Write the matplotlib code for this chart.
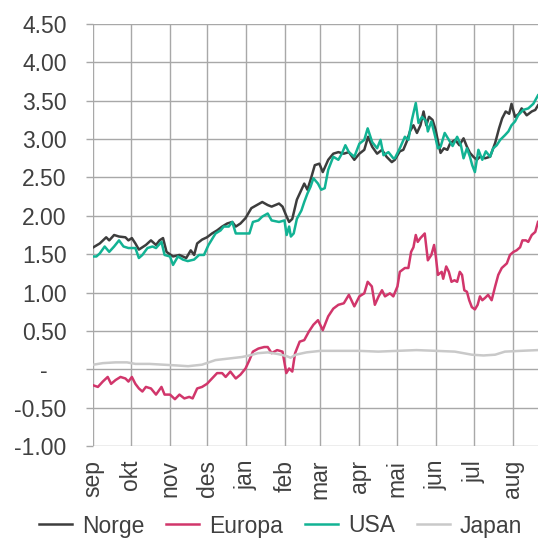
import numpy as np
import pandas as pd
import matplotlib
matplotlib.use("Agg")
import matplotlib.pyplot as plt

# tid i måneder etter 1. sep (0 = sep, 1 = okt, ...), verdier i prosent
norge_t = [0.01, 0.18, 0.35, 0.43, 0.56, 0.69, 0.86, 0.94, 1.03, 1.12, 1.21, 1.39, 1.52, 1.65,
           1.74, 1.83, 1.92, 2.09, 2.26, 2.44, 2.56, 2.65, 2.73, 2.86, 2.99, 3.12, 3.25, 3.38,
           3.51, 3.64, 3.73, 3.85, 3.98, 4.13, 4.27, 4.41, 4.55, 4.65, 4.84, 4.93, 5.03, 5.11,
           5.20, 5.33, 5.46, 5.54, 5.63, 5.72, 5.84, 5.97, 6.06, 6.20, 6.33, 6.46, 6.60, 6.73,
           6.87, 7.00, 7.13, 7.23, 7.34, 7.47, 7.60, 7.72, 7.86, 7.94, 8.07, 8.16, 8.25, 8.33,
           8.42, 8.51, 8.60, 8.68, 8.75, 8.82, 8.91, 8.99, 9.06, 9.12, 9.21, 9.30, 9.38, 9.51,
           9.62, 9.73, 9.82, 9.90, 9.99, 10.08, 10.16, 10.29, 10.42, 10.55, 10.65, 10.73, 10.82,
           10.91, 10.97, 11.06, 11.16, 11.23, 11.36, 11.49, 11.58, 11.65]
norge = [1.59, 1.64, 1.72, 1.68, 1.75, 1.73, 1.72, 1.68, 1.71, 1.64, 1.56, 1.62, 1.68, 1.62,
         1.68, 1.71, 1.53, 1.47, 1.49, 1.45, 1.55, 1.49, 1.64, 1.69, 1.72, 1.77, 1.81, 1.86,
         1.90, 1.92, 1.86, 1.90, 1.97, 2.10, 2.14, 2.18, 2.14, 2.12, 2.16, 2.12, 2.00, 1.92,
         1.96, 2.21, 2.34, 2.42, 2.34, 2.47, 2.66, 2.68, 2.57, 2.73, 2.81, 2.83, 2.81, 2.83,
         2.73, 2.81, 2.86, 3.03, 2.90, 2.81, 2.86, 2.77, 2.70, 2.73, 2.84, 2.86, 2.97, 3.10,
         3.18, 3.08, 3.18, 3.36, 3.18, 3.29, 3.25, 3.12, 2.95, 2.82, 2.88, 2.86, 2.95, 2.99,
         2.92, 3.01, 2.90, 2.82, 2.77, 2.73, 2.77, 2.75, 2.77, 2.95, 3.14, 3.27, 3.36,
         3.33, 3.46, 3.29, 3.33, 3.40, 3.31, 3.36, 3.38, 3.44]

usa_t = [0.01, 0.09, 0.18, 0.31, 0.43, 0.56, 0.69, 0.81, 0.94, 1.12, 1.21, 1.30, 1.43, 1.56,
         1.65, 1.79, 1.87, 2.01, 2.09, 2.22, 2.35, 2.48, 2.65, 2.78, 2.91, 3.03, 3.21, 3.34,
         3.42, 3.55, 3.64, 3.73, 3.90, 4.08, 4.17, 4.31, 4.41, 4.55, 4.65, 4.84, 4.98, 5.04,
         5.11, 5.16, 5.24, 5.33, 5.46, 5.54, 5.63, 5.72, 5.80, 5.93, 6.02, 6.11, 6.20, 6.33,
         6.46, 6.55, 6.64, 6.73, 6.87, 7.00, 7.13, 7.22, 7.34, 7.47, 7.56, 7.64, 7.77, 7.90,
         7.94, 8.07, 8.20, 8.29, 8.38, 8.48, 8.55, 8.64, 8.75, 8.79, 8.88, 8.97, 9.05, 9.12,
         9.23, 9.34, 9.44, 9.56, 9.66, 9.73, 9.82, 9.90, 9.96, 10.03, 10.12, 10.22, 10.31,
         10.42, 10.50, 10.59, 10.68, 10.80, 10.89, 10.97, 11.06, 11.14, 11.27, 11.40, 11.53,
         11.65]
usa = [1.47, 1.47, 1.51, 1.60, 1.53, 1.60, 1.68, 1.60, 1.58, 1.58, 1.45, 1.49, 1.58, 1.60,
       1.58, 1.66, 1.49, 1.47, 1.36, 1.47, 1.43, 1.41, 1.43, 1.49, 1.49, 1.62, 1.77, 1.81,
       1.86, 1.86, 1.92, 1.77, 1.77, 1.77, 1.92, 1.94, 1.99, 2.03, 1.94, 1.92, 1.94, 1.75,
       1.86, 1.73, 1.77, 1.96, 2.07, 2.18, 2.29, 2.38, 2.49, 2.42, 2.34, 2.36, 2.60, 2.77,
       2.73, 2.81, 2.92, 2.83, 2.77, 2.94, 2.99, 3.14, 2.96, 2.88, 2.99, 2.79, 2.83, 2.75,
       2.75, 2.88, 3.03, 2.99, 3.25, 3.47, 3.21, 3.29, 3.23, 3.10, 3.23, 3.05, 2.88, 2.90,
       3.08, 2.99, 2.91, 3.03, 2.92, 2.75, 2.88, 2.77, 2.66, 2.57, 2.86, 2.73, 2.84,
       2.77, 2.88, 2.92, 2.99, 3.05, 3.10, 3.18, 3.23, 3.31, 3.38, 3.40, 3.46,
       3.57]

europa_t = [0.01, 0.13, 0.26, 0.39, 0.48, 0.60, 0.73, 0.86, 0.94, 1.03, 1.12, 1.21, 1.30, 1.39,
            1.52, 1.65, 1.79, 1.87, 2.01, 2.14, 2.26, 2.39, 2.52, 2.61, 2.73, 2.86, 2.99, 3.12,
            3.25, 3.38, 3.47, 3.59, 3.73, 3.85, 3.98, 4.08, 4.17, 4.31, 4.46, 4.55, 4.65, 4.79,
            4.93, 5.03, 5.11, 5.20, 5.28, 5.41, 5.54, 5.67, 5.80, 5.93, 6.06, 6.20, 6.33, 6.46,
            6.60, 6.73, 6.87, 7.00, 7.13, 7.22, 7.33, 7.41, 7.51, 7.60, 7.68, 7.81, 7.90, 8.01,
            8.07, 8.20, 8.29, 8.36, 8.42, 8.48, 8.53, 8.60, 8.71, 8.79, 8.88, 8.95, 8.99, 9.05,
            9.15, 9.19, 9.27, 9.34, 9.41, 9.49, 9.56, 9.63, 9.69, 9.75, 9.82, 9.88, 9.95, 10.03,
            10.10, 10.16, 10.22, 10.29, 10.37, 10.46, 10.55, 10.63, 10.72, 10.85, 10.93, 11.02,
            11.10, 11.19, 11.25, 11.34, 11.40, 11.49, 11.58, 11.65]
europa = [-0.21, -0.23, -0.16, -0.10, -0.19, -0.14, -0.10, -0.12, -0.16, -0.10, -0.19, -0.25,
          -0.29, -0.23, -0.25, -0.33, -0.23, -0.33, -0.33, -0.39, -0.33, -0.38, -0.36, -0.38,
          -0.25, -0.23, -0.19, -0.12, -0.05, -0.05, -0.10, -0.03, -0.12, -0.07, 0.01, 0.12,
          0.23, 0.27, 0.29, 0.29, 0.21, 0.25, 0.23, -0.05, 0.01, -0.03, 0.21, 0.36, 0.38, 0.49,
          0.58, 0.64, 0.51, 0.69, 0.79, 0.84, 0.86, 0.97, 0.82, 0.95, 0.99, 1.14, 1.08, 0.84,
          0.95, 1.03, 0.95, 0.99, 0.95, 1.08, 1.27, 1.32, 1.32, 1.53, 1.59, 1.75, 1.66, 1.71,
          1.77, 1.42, 1.49, 1.62, 1.49, 1.23, 1.27, 1.18, 1.34, 1.27, 1.14, 1.16, 1.14, 1.27,
          1.23, 1.03, 1.01, 0.90, 0.81, 0.78, 0.84, 0.95, 0.90, 0.93, 0.97, 0.90, 1.08, 1.23,
          1.32, 1.38, 1.49, 1.53, 1.55, 1.59, 1.68, 1.68, 1.66, 1.75, 1.79, 1.92]

japan_t = [0.01, 0.26, 0.60, 0.90, 1.12, 1.48, 1.83, 2.18, 2.49, 2.86, 3.21, 3.55, 3.89, 4.08,
           4.30, 4.55, 4.80, 5.05, 5.15, 5.30, 5.60, 6.00, 6.50, 7.00, 7.50, 8.00, 8.50, 9.00,
           9.50, 9.95, 10.25, 10.55, 10.80, 11.20, 11.65]
japan = [0.06, 0.08, 0.09, 0.09, 0.07, 0.07, 0.06, 0.05, 0.04, 0.06, 0.12, 0.14, 0.16, 0.18,
         0.21, 0.22, 0.20, 0.17, 0.15, 0.19, 0.22, 0.24, 0.24, 0.24, 0.23, 0.24, 0.25, 0.24,
         0.23, 0.19, 0.18, 0.19, 0.23, 0.24, 0.25]

maaneder = ["sep", "okt", "nov", "des", "jan", "feb", "mar", "apr", "mai", "jun", "jul", "aug"]
serier = [("Norge", norge_t, norge, "#3d3d3d"),
          ("Europa", europa_t, europa, "#d1366b"),
          ("USA", usa_t, usa, "#12b394"),
          ("Japan", japan_t, japan, "#c9c9c9")]

starts = pd.date_range("2021-09-01", periods=13, freq="MS")


def til_dato(t):
    t = np.asarray(t, dtype=float)
    m = np.floor(t).astype(int)
    lengde = (starts[m + 1] - starts[m]).days.values
    return starts[m] + pd.to_timedelta((t - m) * lengde, unit="D")


plt.rcParams["font.family"] = ["Liberation Sans", "DejaVu Sans"]
tekst = "#404040"
gridfarge = "#a8a8a8"
fs = 16.5

fig = plt.figure(figsize=(5.38, 5.40), dpi=100)
ax = fig.add_axes([93 / 538, 1 - 446 / 540, 1 - 93 / 538, (446 - 24) / 540])

for navn, t, v, farge in serier:
    ax.plot(til_dato(t), v, color=farge, lw=1.8, label=navn)

ax.set_ylim(-1.0, 4.5)
ax.set_xlim(starts[0], til_dato([11.65])[0])

yt = np.arange(-1.0, 4.51, 0.5)
ax.set_yticks(yt)
ax.set_yticklabels(["-   " if abs(v) < 1e-9 else f"{v:.2f}" for v in yt])
ax.set_xticks(starts[:12])
ax.set_xticklabels(maaneder, rotation=90)

ax.grid(True, color=gridfarge, lw=1.0)
ax.set_axisbelow(True)
for s in ax.spines.values():
    s.set_visible(False)
ax.tick_params(axis="y", length=5, width=1.0, color=gridfarge, pad=14,
               labelsize=fs, labelcolor=tekst)
ax.tick_params(axis="x", length=0, pad=10, labelsize=fs, labelcolor=tekst)

leg = fig.legend(loc="center", bbox_to_anchor=(0.522, 14 / 540), ncol=4, frameon=False,
                 fontsize=fs, handlelength=1.44, handletextpad=0.44, columnspacing=0.95,
                 borderaxespad=0, borderpad=0)
for txt in leg.get_texts():
    txt.set_color(tekst)

fig.savefig("out.png", dpi=100)
